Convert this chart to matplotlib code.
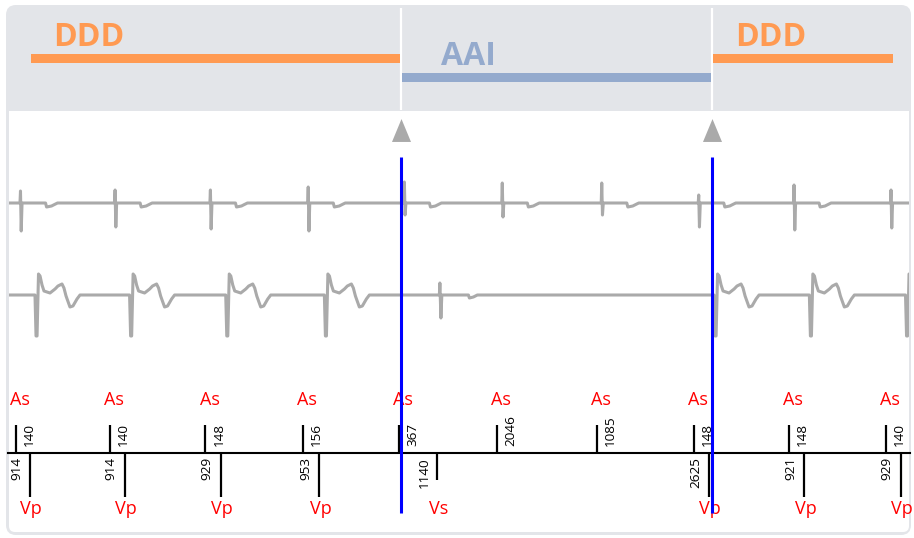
import numpy as np
import matplotlib
matplotlib.use("Agg")
import matplotlib.pyplot as plt
from matplotlib.patches import FancyBboxPatch, Rectangle
from matplotlib.path import Path

plt.rcParams['font.family'] = ['Open Sans', 'DejaVu Sans']

# marker channel, ms
vv_intervals = [914, 914, 929, 953, 1140, 2625, 921, 929]      # label under each V marker
v_types = ['Vp', 'Vp', 'Vp', 'Vp', 'Vs', 'Vp', 'Vp', 'Vp']
av_delays = [140, 140, 148, 156, 367, 2046, 1085, 148, 148, 140]  # label over each A marker
a_next_v = [0, 1, 2, 3, 4, 5, 5, 5, 6, 7]                      # V that follows each A
a_types = ['As'] * 10

# atrial spike size per beat (up, down)
a_up = [12, 13, 13, 16, 21, 20, 20, 8, 18, 13]
a_down = [28, 24, 26, 28, 12, 14, 12, 24, 27, 25]

# mode bands
mode_names = ['DDD', 'AAI', 'DDD']
mode_start = [0, 3585, 6590]
mode_end = [3585, 6590, 8350]
switch_times = [3585, 6590]

# egm templates: ms after the event, amplitude
a_tpl_t = [43, 48, 55, 63, 290, 300, 348, 386, 406]
a_tpl_a = [0, 'up', 'down', 0, 0, -4, -3, -1, 0]   # 'up'/'down' -> a_up / a_down
vp_tpl_t = [48, 58, 68, 82, 97, 116, 135, 193, 242, 270, 309, 328, 348, 386, 415, 454, 483]
vp_tpl_a = [0, -41, -41, 21, 19, 10, 4, 2, 6, 9, 11, 7, -1, -12, -11, -4, 0]
vs_tpl_t = [19, 24, 34, 43, 300, 309, 348, 386]
vs_tpl_a = [0, 12, -23, 0, 0, -3, -2, 0]

v_t = np.concatenate([[0], np.cumsum(vv_intervals[1:])])
a_t = v_t[a_next_v] - np.array(av_delays)

# layout (pixels of a 914x538 figure)
W, H = 914, 538
t_left, t_right = -290, 8541
px = (t_right - t_left) / W          # ms per pixel

def t_at(x):
    return t_left + x * px

fig = plt.figure(figsize=(W / 100, H / 100), dpi=100)
bg = fig.add_axes([0, 0, 1, 1])
bg.set_xlim(0, W)
bg.set_ylim(H, 0)
bg.axis('off')
bg.add_patch(FancyBboxPatch((6, 5), 905, 530, boxstyle='round,pad=0,rounding_size=10',
                            fc='#e3e5e9', ec='none'))
bg.add_patch(FancyBboxPatch((9, 111), 900, 421, boxstyle='round,pad=0,rounding_size=6',
                            fc='white', ec='none'))
bg.add_patch(Rectangle((9, 111), 900, 30, fc='white', ec='none'))

ax = fig.add_axes([0, 0, 1, 1])
ax.set_xlim(t_left, t_right)
ax.set_ylim(H, 0)
ax.axis('off')
ax.patch.set_alpha(0)

mode_colors = {'DDD': '#ff9a52', 'AAI': '#94aacd'}
mode_y = {'DDD': 58, 'AAI': 77}
mode_text_dx = {'DDD': 23, 'AAI': 40}
gap = 1 * px
for name, s, e in zip(mode_names, mode_start, mode_end):
    ax.barh(mode_y[name], (e - gap) - (s + gap), left=s + gap, height=9,
            color=mode_colors[name], zorder=3)
    ax.annotate(name, (s, mode_y[name] - 12), xytext=(mode_text_dx[name], 0),
                textcoords='offset pixels', ha='left', va='baseline',
                fontsize=23, fontweight='bold', color=mode_colors[name], zorder=4)

ax.vlines(switch_times, 8, 110, color='white', lw=1.6, zorder=2)
tri = Path([(-0.83, -1), (0.83, -1), (0, 1), (-0.83, -1)])
ax.plot(switch_times, [130] * len(switch_times), ls='none', marker=tri,
        ms=16.5, color='#aaaaaa', mec='none')

# egm traces
t_lo, t_hi = t_at(9), t_at(909)
clip = Rectangle((t_lo, 111), t_hi - t_lo, 421, transform=ax.transData)

def draw_trace(points, base):
    pts = sorted([(t_lo - 500, 0), (t_hi + 500, 0)] + points)
    tt = [p[0] for p in pts]
    yy = [base - p[1] for p in pts]
    ln, = ax.plot(tt, yy, color='#aaaaaa', lw=2.2, solid_joinstyle='round',
                  solid_capstyle='round', zorder=5)
    ln.set_clip_path(clip)

atrial = []
for t0, up, dn in zip(a_t, a_up, a_down):
    for dt, a in zip(a_tpl_t, a_tpl_a):
        amp = up if a == 'up' else (-dn if a == 'down' else a)
        atrial.append((t0 + dt, amp))
draw_trace(atrial, 203)

vent = []
for t0, kind in zip(v_t, v_types):
    tt, aa = (vp_tpl_t, vp_tpl_a) if kind == 'Vp' else (vs_tpl_t, vs_tpl_a)
    vent += [(t0 + dt, a) for dt, a in zip(tt, aa)]
draw_trace(vent, 295)

# marker channel
ax.plot([t_at(8), t_at(910)], [453, 453], color='black', lw=1.5, zorder=6)
ax.vlines(a_t, 425, 453, color='black', lw=1.6, zorder=6)
v_len = [497 if k == 'Vp' else 480 for k in v_types]
ax.vlines(v_t, 453, v_len, color='black', lw=1.6, zorder=6)

for t0, lab, d in zip(a_t, a_types, av_delays):
    ax.annotate(lab, (t0, 405), xytext=(4, 0), textcoords='offset pixels',
                ha='center', va='baseline', fontsize=13, color='red', zorder=7)
    ax.annotate(str(d), (t0, 446), xytext=(7, 0), textcoords='offset pixels',
                rotation=90, ha='left', va='bottom', fontsize=9.7, color='black', zorder=7)

for t0, lab, d in zip(v_t, v_types, vv_intervals):
    ax.annotate(lab, (t0, 514), xytext=(1, 0), textcoords='offset pixels',
                ha='center', va='baseline', fontsize=13, color='red', zorder=7)
    ax.annotate(str(d), (t0, 457), xytext=(-7, 0), textcoords='offset pixels',
                rotation=90, ha='right', va='top', fontsize=9.7, color='black', zorder=7)

ax.vlines(switch_times, 157, 513, color='#0000ff', lw=2.2, zorder=10)

fig.savefig('out.png', dpi=100)
